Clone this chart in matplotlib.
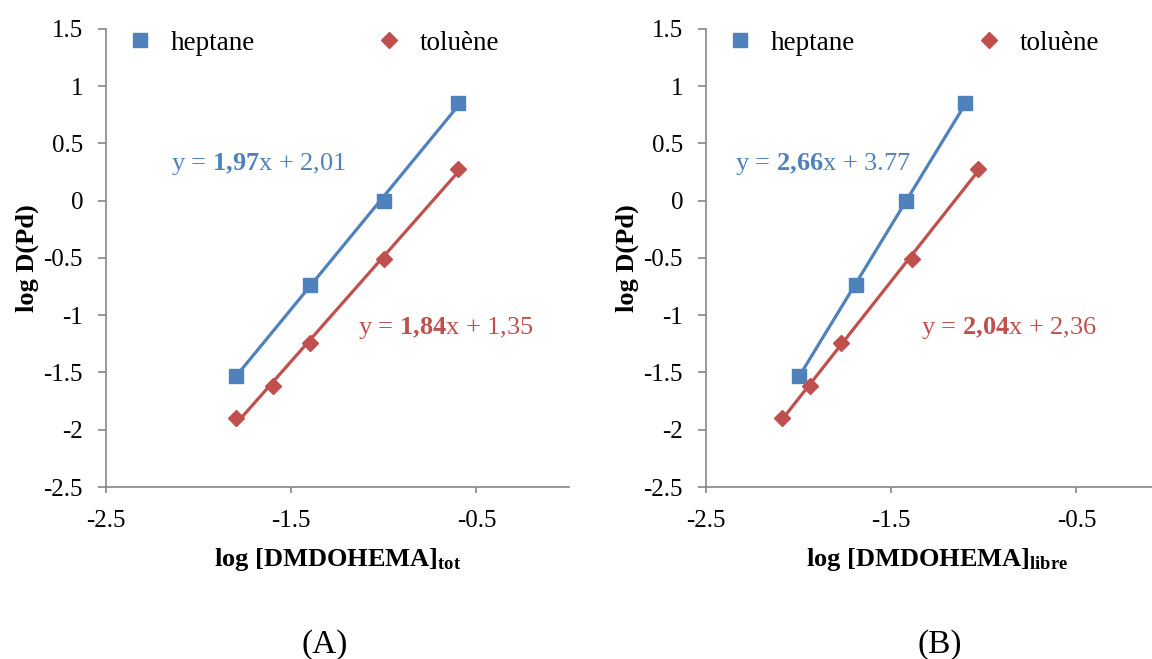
import matplotlib
matplotlib.use('Agg')
import matplotlib.pyplot as plt
import numpy as np
from matplotlib.ticker import FuncFormatter

plt.rcParams['font.family'] = 'Liberation Serif'
plt.rcParams['mathtext.fontset'] = 'custom'
plt.rcParams['mathtext.rm'] = 'Liberation Serif'
plt.rcParams['mathtext.it'] = 'Liberation Serif:italic'
plt.rcParams['mathtext.bf'] = 'Liberation Serif:bold'

# Panel A: log [DMDOHEMA]tot
a_hep_x = [-1.80, -1.40, -1.00, -0.60]
a_hep_y = [-1.53, -0.74, 0.00, 0.85]
a_tol_x = [-1.80, -1.60, -1.40, -1.00, -0.60]
a_tol_y = [-1.90, -1.62, -1.24, -0.51, 0.28]

# Panel B: log [DMDOHEMA]libre
b_hep_x = [-2.00, -1.69, -1.42, -1.10]
b_hep_y = [-1.53, -0.74, 0.00, 0.85]
b_tol_x = [-2.09, -1.94, -1.77, -1.39, -1.03]
b_tol_y = [-1.90, -1.62, -1.24, -0.51, 0.28]

BLUE = '#4F81BD'
RED = '#C0504D'
GRAY = '#868686'
FS = 18      # tick labels
FS_TXT = 19  # legend, equations, axis titles

fig = plt.figure(figsize=(11.52, 6.59), dpi=100)
fig.patch.set_facecolor('white')


def panel(ax, hx, hy, tx, ty, xlabel, eq_h, eq_h_pos, eq_t, eq_t_pos):
    # linear trend lines
    for x, y, c in [(hx, hy, BLUE), (tx, ty, RED)]:
        p = np.polyfit(x, y, 1)
        xs = np.array([min(x), max(x)])
        ax.plot(xs, np.polyval(p, xs), color=c, lw=2.3, zorder=2)
    ax.plot(hx, hy, 's', color=BLUE, ms=10.5, label='heptane', zorder=3)
    ax.plot(tx, ty, 'D', color=RED, ms=8.5, label='toluène', zorder=3)

    ax.set_xlim(-2.5, 0)
    ax.set_ylim(-2.5, 1.5)
    ax.set_xticks([-2.5, -1.5, -0.5])
    ax.set_yticks(np.arange(-2.5, 1.51, 0.5))
    ax.yaxis.set_major_formatter(FuncFormatter(lambda v, p: '%g' % v))
    ax.xaxis.set_major_formatter(FuncFormatter(lambda v, p: '%g' % v))
    for s in ['top', 'right']:
        ax.spines[s].set_visible(False)
    for s in ['left', 'bottom']:
        ax.spines[s].set_color(GRAY)
        ax.spines[s].set_linewidth(1.2)
    ax.tick_params(direction='out', length=5.5, width=1.2, color=GRAY,
                   labelsize=FS)
    ax.tick_params(axis='y', pad=11)
    ax.tick_params(axis='x', length=4.5, pad=12)
    ax.set_xlabel(xlabel, fontsize=FS_TXT, fontweight='bold', labelpad=10)
    ax.set_ylabel('log D(Pd)', fontsize=FS_TXT, fontweight='bold', labelpad=3)

    ax.text(eq_h_pos[0], eq_h_pos[1], eq_h, color=BLUE, fontsize=FS_TXT,
            ha='left', va='center')
    ax.text(eq_t_pos[0], eq_t_pos[1], eq_t, color=RED, fontsize=FS_TXT,
            ha='left', va='center')

    ax.legend(loc='upper left', bbox_to_anchor=(0.02, 1.02), ncol=2,
              frameon=False, fontsize=19.5, handlelength=1.0,
              handletextpad=0.65, columnspacing=4.45, borderaxespad=0)


axA = fig.add_axes([0.0920, 0.2610, 0.402, 0.695])
panel(axA, a_hep_x, a_hep_y, a_tol_x, a_tol_y,
      r'log [DMDOHEMA]$_{\mathbf{tot}}$',
      r'y = $\mathbf{1{,}97}$x + 2,01', (-2.15, 0.32),
      r'y = $\mathbf{1{,}84}$x + 1,35', (-1.14, -1.11))

axB = fig.add_axes([0.6128, 0.2610, 0.402, 0.695])
panel(axB, b_hep_x, b_hep_y, b_tol_x, b_tol_y,
      r'log [DMDOHEMA]$_{\mathbf{libre}}$',
      r'y = $\mathbf{2{,}66}$x + 3.77', (-2.345, 0.32),
      r'y = $\mathbf{2{,}04}$x + 2,36', (-1.34, -1.11))

fig.text(325 / 1152, 1 - 645 / 659, '(A)', fontsize=24, ha='center', va='center')
fig.text(940 / 1152, 1 - 645 / 659, '(B)', fontsize=24, ha='center', va='center')

fig.savefig('out.png', dpi=100, facecolor='white')
